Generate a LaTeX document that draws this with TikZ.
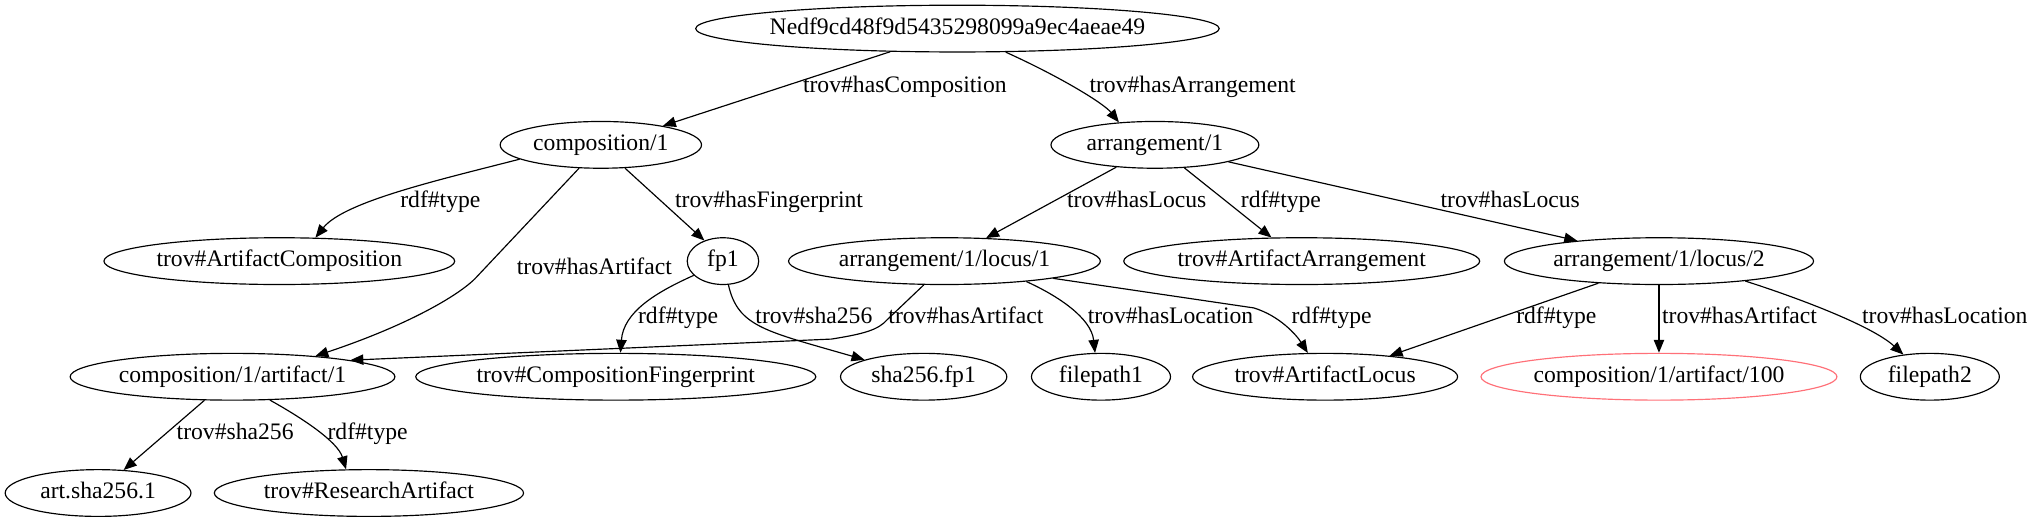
\documentclass[tikz,border=0pt]{standalone}
\usepackage{fontspec}
\setmainfont{Liberation Serif}
\usetikzlibrary{arrows.meta,shapes.geometric}
\newcommand\fsz{\fontsize{18.2pt}{21pt}\selectfont}
\definecolor{lred}{RGB}{255,112,120}
\begin{document}
\begin{tikzpicture}[x=1pt,y=-1pt,
  nd/.style={draw, ellipse, inner sep=0pt, minimum height=36pt, line width=0.9pt, font=\fsz, text height=12.5pt, text depth=3.8pt},
  lab/.style={inner sep=0pt, font=\fsz, text height=12.5pt, text depth=3.8pt},
  e/.style={draw, line width=0.9pt, -{Triangle[length=10pt,width=8pt]}}]
\useasboundingbox (0,0) rectangle (1568,402.6);
% nodes
\node[nd, minimum width=403pt, inner xsep=-6pt] (root) at (737,22) {Nedf9cd48f9d5435298099a9ec4aeae49};
\node[nd, minimum width=155pt] (comp) at (462.5,111.5) {composition/1};
\node[nd, minimum width=160pt] (arr) at (889,111.5) {arrangement/1};
\node[nd, minimum width=270pt] (tac) at (215,201) {trov\#ArtifactComposition};
\node[nd, minimum width=55pt] (fp1) at (556.5,201) {fp1};
\node[nd, minimum width=240pt] (loc1) at (727,201) {arrangement/1/locus/1};
\node[nd, minimum width=274pt] (taa) at (1002,201) {trov\#ArtifactArrangement};
\node[nd, minimum width=238pt] (loc2) at (1277,201) {arrangement/1/locus/2};
\node[nd, minimum width=250pt] (ca1) at (179,290) {composition/1/artifact/1};
\node[nd, minimum width=308pt] (tcf) at (474,290) {trov\#CompositionFingerprint};
\node[nd, minimum width=128pt] (sfp) at (711,290) {sha256.fp1};
\node[nd, minimum width=107pt] (fpa1) at (847.5,290) {filepath1};
\node[nd, minimum width=204pt] (tal) at (1020,290) {trov\#ArtifactLocus};
\node[nd, minimum width=274pt, draw=lred] (ca100) at (1277,290) {composition/1/artifact/100};
\node[nd, minimum width=107pt] (fpa2) at (1485.5,290) {filepath2};
\node[nd, minimum width=143pt] (as1) at (75.5,379.5) {art.sha256.1};
\node[nd, minimum width=238pt] (tra) at (284,379.5) {trov\#ResearchArtifact};
% edges
\draw[e] (root.199) -- (comp.17)
  node[lab] (l1) at (696.5,66.7) {trov\#hasComposition};
\draw[e] (root.-26) .. controls (818,60) and (850,80) .. (arr.148)
  node[lab] (l2) at (918,66.7) {trov\#hasArrangement};
\draw[e] (comp.190) .. controls (340,138) and (265,155) .. (tac.33)
  node[lab] (l3) at (339,155.6) {rdf\#type};
\draw[e] (comp.227) -- (368,212) .. controls (356,226) and (315,250) .. (ca1.14)
  node[lab] (l4) at (457.5,207) {trov\#hasArtifact};
\draw[e] (comp.-44) -- (fp1.132)
  node[lab] (l5) at (592,155.6) {trov\#hasFingerprint};
\draw[e] (fp1.206) .. controls (505,225) and (480,240) .. (tcf.79)
  node[lab] (l6) at (522,245) {rdf\#type};
\draw[e] (fp1.-77) .. controls (568,252) and (590,255) .. (sfp.164)
  node[lab] (l7) at (626.5,245) {trov\#sha256};
\draw[e] (loc1.229) -- (683,246) .. controls (676,254) and (665,257) .. (640,261) -- (ca1.8)
  node[lab] (l8) at (743.5,245) {trov\#hasArtifact};
\draw[e] (arr.210) -- (loc1.29)
  node[lab] (l9) at (875,155.6) {trov\#hasLocus};
\draw[e] (arr.-38) -- (taa.142)
  node[lab] (l10) at (986,155.6) {rdf\#type};
\draw[e] (arr.-13) -- (loc2.166)
  node[lab] (l11) at (1162.5,155.6) {trov\#hasLocus};
\draw[e] (loc1.-14) .. controls (815,228) and (840,245) .. (fpa1.104)
  node[lab] (l12) at (901,245) {trov\#hasLocation};
\draw[e] (loc1.-9) -- (965,237) .. controls (985,243) and (998,258) .. (tal.126)
  node[lab] (l13) at (1025,245) {rdf\#type};
\draw[e] (loc2.200) -- (tal.18)
  node[lab] (l14) at (1198,245) {rdf\#type};
\draw[e] (loc2.south) -- (ca100.north)
  node[lab] (l15) at (1339,245) {trov\#hasArtifact};
\draw[e] (loc2.-13) .. controls (1380,228) and (1440,250) .. (fpa2.140)
  node[lab] (l16) at (1497,245) {trov\#hasLocation};
\draw[e] (ca1.220) -- (as1.42)
  node[lab] (l17) at (181,333.8) {trov\#sha256};
\draw[e] (ca1.-32) .. controls (233,322) and (260,340) .. (tra.134)
  node[lab] (l18) at (283,333.8) {rdf\#type};
\end{tikzpicture}
\end{document}
